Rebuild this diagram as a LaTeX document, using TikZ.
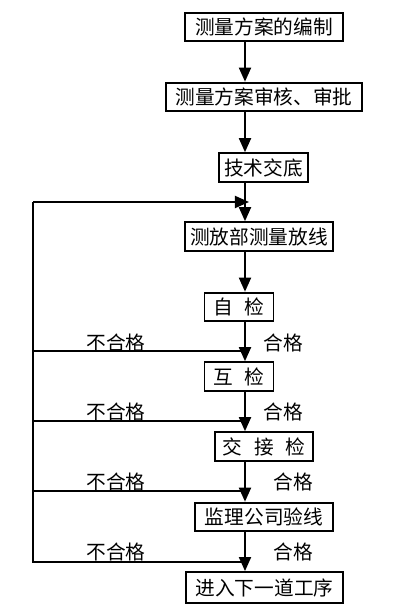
\documentclass[tikz,border=0pt]{standalone}
\usepackage{fontspec}
\newfontfamily\cjk{Noto Sans CJK SC}
\usetikzlibrary{arrows.meta}
\tikzset{%
  >={Triangle[width=3mm,length=3.5mm]},
  % Specifications for style of nodes:
      procbox/.style = {rectangle, draw=black, line width=1.3pt, inner sep=0pt,
                        minimum height=0.72cm, text centered,
                        font=\cjk\fontsize{14}{16}\selectfont},
     failtext/.style = {font=\cjk\fontsize{14}{16}\selectfont, inner sep=0pt},
     passtext/.style = {failtext},
}
\newcommand{\gapcjk}{\hspace{0.6em}}

\begin{document}
\begin{tikzpicture}[x=0.025cm, y=-0.025cm, line width=1.3pt]
    \useasboundingbox (0,0) rectangle (414,605);

    % boxes
    \node (plan)    [procbox, minimum width=3.95cm]  at (264,27)    {测量方案的编制};
    \node (review)  [procbox, minimum width=4.9cm]   at (264,97)    {测量方案审核、审批};
    \node (brief)   [procbox, minimum width=2.225cm] at (263.5,167.5) {技术交底};
    \node (setout)  [procbox, minimum width=3.7cm]   at (259,236.5) {测放部测量放线};
    \node (selfchk) [procbox, minimum width=1.725cm] at (239,307)   {自\gapcjk 检};
    \node (mutchk)  [procbox, minimum width=1.725cm] at (239,376.5) {互\gapcjk 检};
    \node (handchk) [procbox, minimum width=2.45cm]  at (264,446.5) {交\gapcjk 接\gapcjk 检};
    \node (supchk)  [procbox, minimum width=3.45cm]  at (264,517)   {监理公司验线};
    \node (next)    [procbox, minimum width=3.925cm, minimum height=0.775cm] at (264.5,587.5) {进入下一道工序};

    % main line and loop points
    \coordinate (axis)   at (245,0);
    \coordinate (top)    at (249,202);
    \coordinate (corner) at (33,202);
    \coordinate (f1)     at (245,351);
    \coordinate (f2)     at (245,421);
    \coordinate (f3)     at (245,491);
    \coordinate (f4)     at (245,562);

    \draw[->] (plan.south -| axis)    -- (review.north -| axis);
    \draw[->] (review.south -| axis)  -- (brief.north -| axis);
    \draw[->] (brief.south -| axis)   -- (setout.north -| axis);
    \draw[->] (setout.south -| axis)  -- (selfchk.north -| axis);
    \draw[->] (selfchk.south -| axis) -- (mutchk.north -| axis);
    \draw[->] (mutchk.south -| axis)  -- (handchk.north -| axis);
    \draw[->] (handchk.south -| axis) -- (supchk.north -| axis);
    \draw[->] (supchk.south -| axis)  -- (next.north -| axis);

    % rework loop
    \draw (f4) -- (f4 -| corner) -- (corner);
    \draw (f1) -- (f1 -| corner);
    \draw (f2) -- (f2 -| corner);
    \draw (f3) -- (f3 -| corner);
    \draw[->] (corner) -- (top);

    % labels
    \node (no1)  [failtext] at (116,343) {不合格};
    \node (no2)  [failtext] at (116,412) {不合格};
    \node (no3)  [failtext] at (116,482) {不合格};
    \node (no4)  [failtext] at (116,552) {不合格};
    \node (yes1) [passtext] at (283,343) {合格};
    \node (yes2) [passtext] at (283,412) {合格};
    \node (yes3) [passtext] at (293,482) {合格};
    \node (yes4) [passtext] at (293,552) {合格};
\end{tikzpicture}
\end{document}
